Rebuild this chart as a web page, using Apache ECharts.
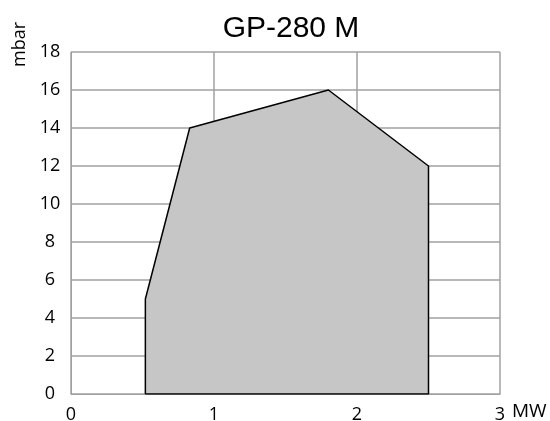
<!DOCTYPE html>
<html>
<head>
<meta charset="utf-8">
<script src="https://cdn.jsdelivr.net/npm/echarts@6/dist/echarts.min.js"></script>
<style>
html, body { margin: 0; padding: 0; background: #fff; }
#chart { width: 550px; height: 421px; }
</style>
</head>
<body>
<div id="chart"></div>
<script>
// working range outline (MW, mbar)
var rangeX = [0.52, 0.52, 0.83, 1.80, 2.50, 2.50, 0.52];
var rangeY = [0, 5, 14, 16, 12, 0, 0];
var xTicks = [0, 1, 2, 3];
var yTicks = [0, 2, 4, 6, 8, 10, 12, 14, 16, 18];

var pts = [];
for (var i = 0; i < rangeX.length; i++) {
	pts.push([rangeX[i], rangeY[i]]);
}

var chart = echarts.init(document.getElementById('chart'), null, { renderer: 'canvas' });
var font = 'Open Sans, Liberation Sans, sans-serif';
chart.setOption({
	animation: false,
	title: {
		text: 'GP-280 M',
		left: 286,
		top: 9,
		textAlign: 'center',
		textStyle: { fontFamily: 'Liberation Sans', fontSize: 30, fontWeight: 'normal', color: '#000' }
	},
	grid: { left: 71, right: 50, top: 52, bottom: 27, containLabel: false, outerBoundsMode: 'none' },
	xAxis: {
		type: 'value',
		min: xTicks[0],
		max: xTicks[xTicks.length - 1],
		interval: 1,
		axisLine: { lineStyle: { color: '#a0a0a0', width: 1 } },
		axisTick: { show: false },
		axisLabel: { color: '#000', fontSize: 18, fontFamily: font, margin: 12 },
		splitLine: { show: true, lineStyle: { color: '#a0a0a0', width: 1.5 } }
	},
	yAxis: {
		type: 'value',
		min: yTicks[0],
		max: yTicks[yTicks.length - 1],
		interval: 2,
		axisLine: { show: true, lineStyle: { color: '#a0a0a0', width: 1 } },
		axisTick: { show: false },
		axisLabel: { color: '#000', fontSize: 18, fontFamily: font, margin: 21, align: 'center', padding: [0, 0, 3, 0] },
		splitLine: { show: true, lineStyle: { color: '#a0a0a0', width: 1.5 } }
	},
	graphic: [
		{
			type: 'text',
			x: 11, y: 67,
			rotation: Math.PI / 2,
			style: { text: 'mbar', fill: '#000', font: '18px ' + font }
		},
		{
			type: 'text',
			x: 512, y: 402,
			style: { text: 'MW', fill: '#000', font: '19px ' + font }
		}
	],
	series: [{
		type: 'line',
		data: pts,
		symbol: 'none',
		lineStyle: { color: '#000', width: 1.5 },
		areaStyle: { color: '#c6c6c6', opacity: 1 },
		z: 1
	}]
});
</script>
</body>
</html>
